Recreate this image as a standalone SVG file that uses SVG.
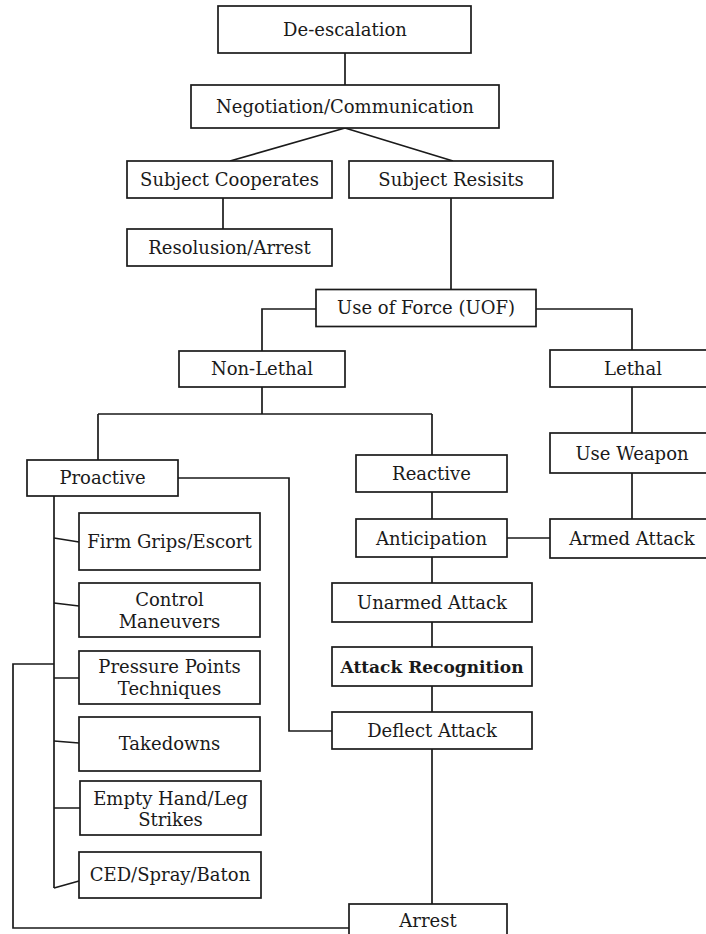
<svg xmlns="http://www.w3.org/2000/svg" width="706" height="934" viewBox="0 0 706 934">
<style>
rect{fill:#fff;stroke:#1a1a1a;stroke-width:1.7}
.c path{fill:none;stroke:#1a1a1a;stroke-width:1.7}
text{font-family:"DejaVu Serif","Liberation Serif",serif;font-size:18px;fill:#1a1a1a;text-anchor:middle}
.b{font-weight:bold;font-size:17px}
</style>
<rect x="0" y="0" width="706" height="934" style="stroke:none"/>
<g class="c" id="connectors">
<path d="M345 53V85"/>
<path d="M345 128L230 161M345 128L453 161"/>
<path d="M223 198V229"/>
<path d="M451 198V289.5"/>
<path d="M316 309H262V351"/>
<path d="M536 309H632V350"/>
<path d="M262 387V414M98 414H432M98 414V460M432 414V455"/>
<path d="M632 387V433M632 473V519"/>
<path d="M507 538H550"/>
<path d="M432 492V519M432 557V583M432 622V647M432 686V712M432 749V904"/>
<path d="M178 478H289V731H332"/>
<path d="M54 496V888"/>
<path d="M54 538L79 542M54 603L79 606M54 678H79M54 741L79 743M54 808H80M54 888L79 881"/>
<path d="M54 664H13V928H349"/>
</g>
<g id="deescalation"><rect x="218" y="6" width="253" height="47"/><text x="345" y="36">De-escalation</text></g>
<g id="negotiation"><rect x="191" y="85" width="308" height="43"/><text x="345" y="113">Negotiation/Communication</text></g>
<g id="cooperates"><rect x="127" y="161" width="205" height="37"/><text x="229.5" y="186">Subject Cooperates</text></g>
<g id="resists"><rect x="349" y="161" width="204" height="37"/><text x="451" y="186">Subject Resisits</text></g>
<g id="resolution"><rect x="127" y="229" width="205" height="37"/><text x="229.5" y="254">Resolusion/Arrest</text></g>
<g id="uof"><rect x="316" y="289.5" width="220" height="37"/><text x="426" y="314">Use of Force (UOF)</text></g>
<g id="nonlethal"><rect x="179" y="351" width="166" height="36"/><text x="262" y="375">Non-Lethal</text></g>
<g id="lethal"><rect x="550" y="350" width="164" height="37"/><text x="633" y="375">Lethal</text></g>
<g id="useweapon"><rect x="550" y="433" width="164" height="40"/><text x="632" y="460">Use Weapon</text></g>
<g id="armedattack"><rect x="550" y="519" width="164" height="39"/><text x="632" y="545">Armed Attack</text></g>
<g id="proactive"><rect x="27" y="460" width="151" height="36"/><text x="102.5" y="484">Proactive</text></g>
<g id="reactive"><rect x="356" y="455" width="151" height="37"/><text x="431.5" y="480">Reactive</text></g>
<g id="anticipation"><rect x="356" y="519" width="151" height="38"/><text x="431.5" y="545">Anticipation</text></g>
<g id="unarmed"><rect x="332" y="583" width="200" height="39"/><text x="432" y="609">Unarmed Attack</text></g>
<g id="recognition"><rect x="332" y="647" width="200" height="39"/><text class="b" x="432" y="673">Attack Recognition</text></g>
<g id="deflect"><rect x="332" y="712" width="200" height="37"/><text x="432" y="737">Deflect Attack</text></g>
<g id="arrest"><rect x="349" y="904" width="158" height="40"/><text x="428" y="927">Arrest</text></g>
<g id="firmgrips"><rect x="79" y="513" width="181" height="57"/><text x="169.5" y="548">Firm Grips/Escort</text></g>
<g id="control"><rect x="79" y="583" width="181" height="54"/><text x="169.5" y="606">Control</text><text x="169.5" y="628">Maneuvers</text></g>
<g id="pressure"><rect x="79" y="651" width="181" height="53"/><text x="169.5" y="673">Pressure Points</text><text x="169.5" y="695">Techniques</text></g>
<g id="takedowns"><rect x="79" y="717" width="181" height="54"/><text x="169.5" y="750">Takedowns</text></g>
<g id="emptyhand"><rect x="80" y="781" width="181" height="54"/><text x="170.5" y="805">Empty Hand/Leg</text><text x="170.5" y="826">Strikes</text></g>
<g id="ced"><rect x="79" y="852" width="182" height="46"/><text x="170" y="881">CED/Spray/Baton</text></g>
</svg>
